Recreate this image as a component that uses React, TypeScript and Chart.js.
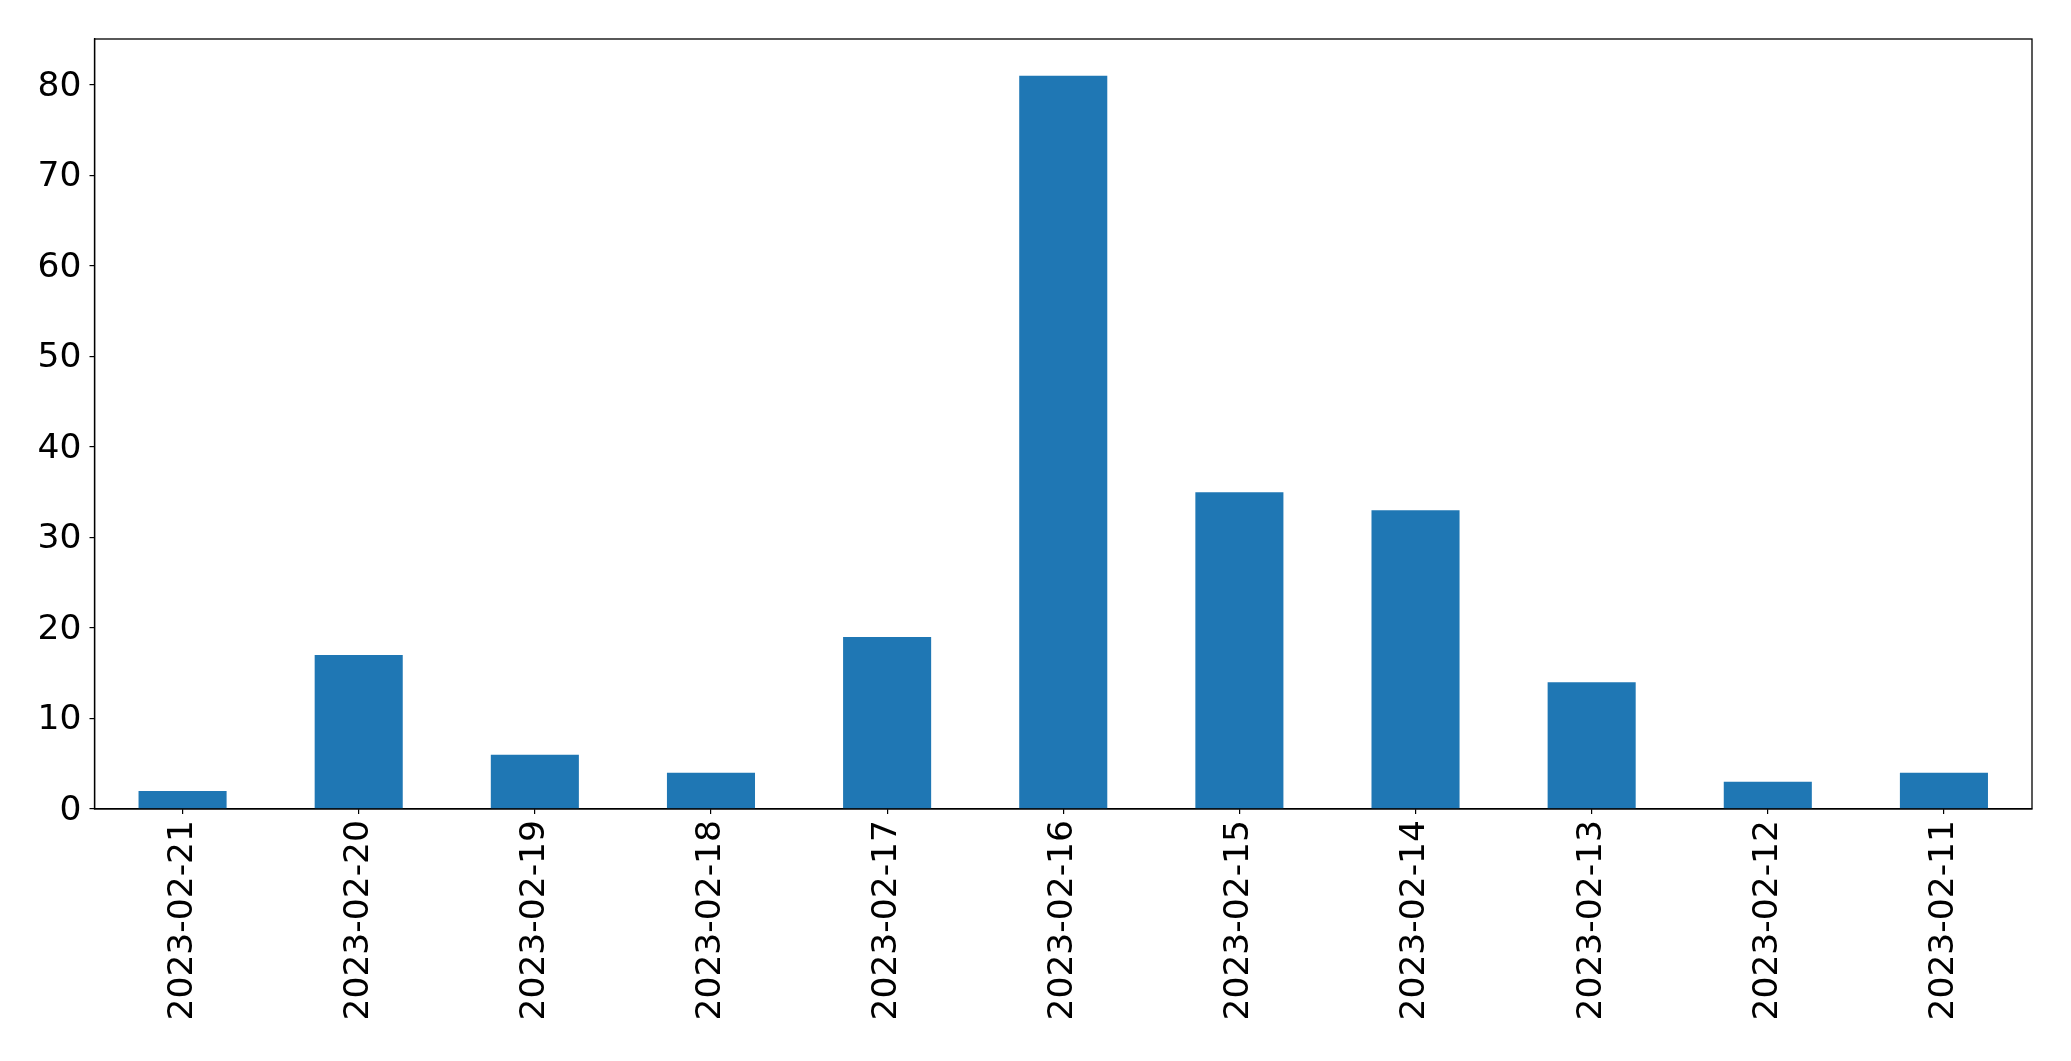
import React, { useEffect, useRef } from "react";
import { Chart, registerables } from "chart.js";

Chart.register(...registerables);

const categories = [
  "2023-02-21", "2023-02-20", "2023-02-19", "2023-02-18", "2023-02-17", "2023-02-16",
  "2023-02-15", "2023-02-14", "2023-02-13", "2023-02-12", "2023-02-11",
];
const counts = [2, 17, 6, 4, 19, 81, 35, 33, 14, 3, 4];
const yMax = 85.05;
const yStep = 10;

const W = 2071;
const H = 1061;
const FONT = "'DejaVu Sans', sans-serif";

const framePlugin = {
  id: "frame",
  afterDraw(chart: any) {
    const { ctx, chartArea } = chart;
    ctx.save();
    ctx.strokeStyle = "#000";
    ctx.lineWidth = 1.3;
    ctx.strokeRect(chartArea.left, chartArea.top, chartArea.right - chartArea.left, chartArea.bottom - chartArea.top);
    ctx.restore();
  },
};

export default function App() {
  const ref = useRef<HTMLCanvasElement | null>(null);
  useEffect(() => {
    if (!ref.current) return;
    const chart = new Chart(ref.current, {
      type: "bar",
      data: {
        labels: categories,
        datasets: [
          {
            data: counts,
            backgroundColor: "#1f77b4",
            borderWidth: 0,
            categoryPercentage: 1,
            barPercentage: 0.5,
          },
        ],
      },
      plugins: [framePlugin],
      options: {
        animation: false,
        responsive: false,
        devicePixelRatio: 1,
        layout: { padding: { top: 39, right: 39, left: 0, bottom: 0 } },
        plugins: { legend: { display: false }, tooltip: { enabled: false }, title: { display: false } },
        scales: {
          x: {
            offset: true,
            grid: { display: true, drawOnChartArea: false, color: "#000", lineWidth: 1.2, tickLength: 5, offset: false },
            border: { display: true, color: "#000", width: 1.3 },
            ticks: {
              color: "#000",
              font: { family: FONT, size: 34.5 },
              minRotation: 90,
              maxRotation: 90,
              padding: 6,
              autoSkip: false,
            },
            afterFit: (s: any) => { s.height = 252; },
          },
          y: {
            min: 0,
            max: yMax,
            grid: { display: true, drawOnChartArea: false, color: "#000", lineWidth: 1.2, tickLength: 5 },
            border: { display: true, color: "#000", width: 1.3 },
            ticks: {
              stepSize: yStep,
              includeBounds: false,
              color: "#000",
              font: { family: FONT, size: 34.5 },
              padding: 8,
              labelOffset: 2,
            },
            afterFit: (s: any) => { s.width = 94.5; },
          },
        },
      },
    });
    return () => chart.destroy();
  }, []);
  return (
    <div style={{ position: "absolute", left: 0, top: 0, width: W, height: H, background: "#fff" }}>
      <canvas ref={ref} width={W} height={H} style={{ width: W, height: H, display: "block" }} />
    </div>
  );
}
